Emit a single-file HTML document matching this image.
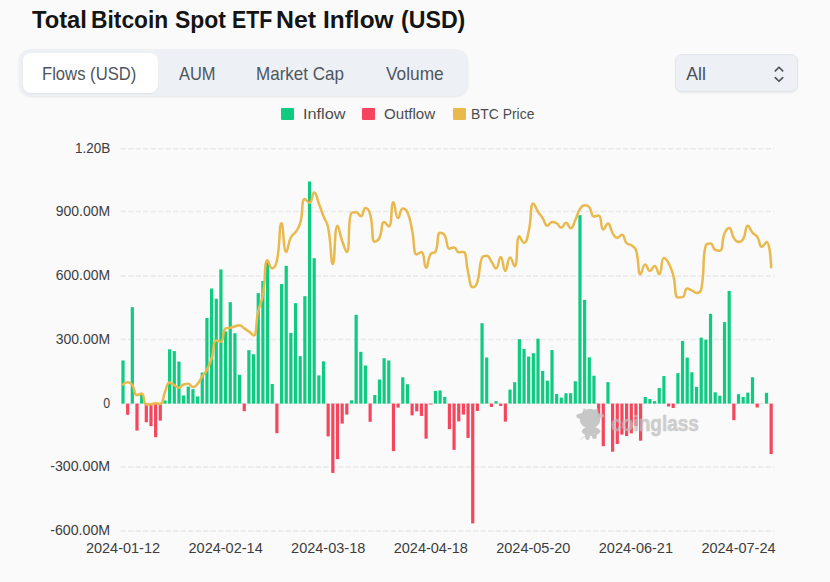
<!DOCTYPE html>
<html lang="en"><head><meta charset="utf-8"><title>Total Bitcoin Spot ETF Net Inflow (USD)</title>
<style>
html,body{margin:0;padding:0;}
body{width:830px;height:582px;overflow:hidden;background:#fafafa;font-family:"Liberation Sans",sans-serif;position:relative;color:#1a1a1a;}
.title{position:absolute;left:0;width:500px;height:30px;top:5.4px;margin:0;font-size:23.5px;line-height:30px;font-weight:bold;white-space:nowrap;color:#141414;}
.title span{position:absolute;top:0;display:block;transform-origin:0 50%;white-space:pre;}
.tabs{position:absolute;left:19px;top:49.2px;width:448.6px;height:46.8px;border-radius:12px;background:#edf1f5;box-shadow:0 1px 2px rgba(0,0,0,.08);}
.tab{position:absolute;top:4px;height:39.5px;line-height:41.7px;font-size:18.4px;color:#4f5560;white-space:nowrap;}
.tab span{display:inline-block;transform-origin:0 50%;}
.tab.active{background:#fff;border-radius:8px;box-shadow:0 1px 2px rgba(0,0,0,.06);}
.select{position:absolute;left:675.3px;top:54.2px;width:122.4px;height:37.8px;border-radius:7px;background:#edf1f5;border:1px solid #e2e6ea;box-shadow:0 1px 2px rgba(0,0,0,.07);box-sizing:border-box;}
.select span{position:absolute;left:10px;top:0;line-height:38.2px;font-size:17.6px;color:#4a5058;}
.select svg{position:absolute;left:97.7px;top:8.8px;}
.legend{position:absolute;top:104px;left:0;width:830px;height:18px;font-size:14.8px;color:#4d4d4d;}
.legend i{position:absolute;top:3.8px;width:12.8px;height:12.5px;border-radius:1px;}
.legend span{position:absolute;top:0.6px;line-height:18px;white-space:nowrap;transform-origin:0 50%;}
.chart{position:absolute;left:0;top:0;}
</style></head><body>
<svg class="chart" width="830" height="582" viewBox="0 0 830 582"><g stroke="#e9e9e9" stroke-width="1.5" stroke-dasharray="5.5 2" fill="none"><path d="M120.5,148.8H774.2"/><path d="M120.5,211.5H774.2"/><path d="M120.5,276.0H774.2"/><path d="M120.5,339.5H774.2"/><path d="M120.5,403.5H774.2"/><path d="M120.5,467.1H774.2"/><path d="M120.5,531.1H774.2"/></g><g fill="#0ecb81"><rect x="121.40" y="360.46" width="3.2" height="43.14"/><rect x="130.73" y="307.17" width="3.2" height="96.43"/><rect x="140.05" y="394.70" width="3.2" height="8.90"/><rect x="163.37" y="400.46" width="3.2" height="3.15"/><rect x="168.03" y="349.29" width="3.2" height="54.31"/><rect x="172.69" y="351.09" width="3.2" height="52.51"/><rect x="177.36" y="361.61" width="3.2" height="41.99"/><rect x="182.02" y="395.44" width="3.2" height="8.16"/><rect x="186.68" y="386.58" width="3.2" height="17.02"/><rect x="191.34" y="389.15" width="3.2" height="14.45"/><rect x="196.01" y="396.44" width="3.2" height="7.16"/><rect x="200.67" y="372.60" width="3.2" height="31.00"/><rect x="205.33" y="317.96" width="3.2" height="85.64"/><rect x="210.00" y="288.53" width="3.2" height="115.07"/><rect x="214.66" y="298.75" width="3.2" height="104.85"/><rect x="219.32" y="269.45" width="3.2" height="134.15"/><rect x="223.99" y="331.39" width="3.2" height="72.21"/><rect x="228.65" y="302.15" width="3.2" height="101.45"/><rect x="233.31" y="333.20" width="3.2" height="70.40"/><rect x="237.97" y="374.81" width="3.2" height="28.79"/><rect x="247.30" y="350.18" width="3.2" height="53.42"/><rect x="251.96" y="354.24" width="3.2" height="49.36"/><rect x="256.63" y="293.14" width="3.2" height="110.46"/><rect x="261.29" y="281.03" width="3.2" height="122.57"/><rect x="265.95" y="260.50" width="3.2" height="143.10"/><rect x="270.62" y="383.97" width="3.2" height="19.64"/><rect x="279.94" y="284.03" width="3.2" height="119.57"/><rect x="284.61" y="265.84" width="3.2" height="137.76"/><rect x="289.27" y="332.94" width="3.2" height="70.66"/><rect x="293.93" y="303.17" width="3.2" height="100.43"/><rect x="298.59" y="356.17" width="3.2" height="47.43"/><rect x="303.26" y="296.18" width="3.2" height="107.42"/><rect x="307.92" y="181.54" width="3.2" height="222.06"/><rect x="312.58" y="258.25" width="3.2" height="145.35"/><rect x="317.25" y="375.40" width="3.2" height="28.20"/><rect x="321.91" y="361.36" width="3.2" height="42.25"/><rect x="349.89" y="400.33" width="3.2" height="3.27"/><rect x="354.55" y="314.78" width="3.2" height="88.83"/><rect x="359.21" y="351.86" width="3.2" height="51.74"/><rect x="363.88" y="365.56" width="3.2" height="38.04"/><rect x="373.20" y="395.04" width="3.2" height="8.56"/><rect x="377.87" y="379.48" width="3.2" height="24.12"/><rect x="382.53" y="358.25" width="3.2" height="45.35"/><rect x="387.19" y="360.46" width="3.2" height="43.14"/><rect x="401.18" y="377.29" width="3.2" height="26.31"/><rect x="405.84" y="384.20" width="3.2" height="19.40"/><rect x="433.82" y="390.91" width="3.2" height="12.69"/><rect x="438.48" y="390.43" width="3.2" height="13.17"/><rect x="443.15" y="396.89" width="3.2" height="6.71"/><rect x="480.45" y="323.21" width="3.2" height="80.39"/><rect x="485.11" y="357.49" width="3.2" height="46.11"/><rect x="494.44" y="401.16" width="3.2" height="2.44"/><rect x="508.43" y="389.58" width="3.2" height="14.03"/><rect x="513.09" y="382.24" width="3.2" height="21.36"/><rect x="517.75" y="339.21" width="3.2" height="64.39"/><rect x="522.42" y="348.92" width="3.2" height="54.68"/><rect x="527.08" y="356.53" width="3.2" height="47.07"/><rect x="531.74" y="353.20" width="3.2" height="50.40"/><rect x="536.41" y="338.64" width="3.2" height="64.96"/><rect x="541.07" y="370.92" width="3.2" height="32.68"/><rect x="545.73" y="380.67" width="3.2" height="22.93"/><rect x="550.40" y="350.07" width="3.2" height="53.53"/><rect x="555.06" y="394.02" width="3.2" height="9.58"/><rect x="559.72" y="397.59" width="3.2" height="6.01"/><rect x="564.38" y="393.25" width="3.2" height="10.35"/><rect x="569.05" y="393.23" width="3.2" height="10.37"/><rect x="573.71" y="381.27" width="3.2" height="22.33"/><rect x="578.37" y="215.20" width="3.2" height="188.40"/><rect x="583.04" y="299.88" width="3.2" height="103.72"/><rect x="587.70" y="357.34" width="3.2" height="46.26"/><rect x="592.36" y="375.76" width="3.2" height="27.84"/><rect x="606.35" y="382.18" width="3.2" height="21.42"/><rect x="643.66" y="397.01" width="3.2" height="6.59"/><rect x="648.32" y="399.05" width="3.2" height="4.55"/><rect x="652.98" y="401.09" width="3.2" height="2.51"/><rect x="657.64" y="388.09" width="3.2" height="15.51"/><rect x="662.31" y="376.08" width="3.2" height="27.52"/><rect x="676.30" y="373.19" width="3.2" height="30.41"/><rect x="680.96" y="340.93" width="3.2" height="62.67"/><rect x="685.62" y="357.62" width="3.2" height="45.98"/><rect x="690.29" y="372.28" width="3.2" height="31.32"/><rect x="694.95" y="386.83" width="3.2" height="16.77"/><rect x="699.61" y="337.70" width="3.2" height="65.90"/><rect x="704.27" y="339.64" width="3.2" height="63.96"/><rect x="708.94" y="313.82" width="3.2" height="89.78"/><rect x="713.60" y="392.27" width="3.2" height="11.33"/><rect x="718.26" y="395.74" width="3.2" height="7.86"/><rect x="722.93" y="322.09" width="3.2" height="81.52"/><rect x="727.59" y="290.93" width="3.2" height="112.67"/><rect x="736.92" y="394.14" width="3.2" height="9.46"/><rect x="741.58" y="396.99" width="3.2" height="6.61"/><rect x="746.24" y="392.59" width="3.2" height="11.01"/><rect x="750.90" y="377.23" width="3.2" height="26.37"/><rect x="760.23" y="403.54" width="3.2" height="0.06"/><rect x="764.89" y="392.85" width="3.2" height="10.75"/></g><g fill="#f6465d"><rect x="126.06" y="403.60" width="3.2" height="11.20"/><rect x="135.39" y="403.60" width="3.2" height="26.99"/><rect x="144.72" y="403.60" width="3.2" height="18.68"/><rect x="149.38" y="403.60" width="3.2" height="22.52"/><rect x="154.04" y="403.60" width="3.2" height="33.57"/><rect x="158.70" y="403.60" width="3.2" height="17.00"/><rect x="242.64" y="403.60" width="3.2" height="7.57"/><rect x="275.28" y="403.60" width="3.2" height="29.64"/><rect x="326.57" y="403.60" width="3.2" height="32.81"/><rect x="331.24" y="403.60" width="3.2" height="69.32"/><rect x="335.90" y="403.60" width="3.2" height="55.59"/><rect x="340.56" y="403.60" width="3.2" height="19.97"/><rect x="345.22" y="403.60" width="3.2" height="10.96"/><rect x="368.54" y="403.60" width="3.2" height="18.21"/><rect x="391.85" y="403.60" width="3.2" height="47.56"/><rect x="396.52" y="403.60" width="3.2" height="3.95"/><rect x="410.51" y="403.60" width="3.2" height="11.71"/><rect x="415.17" y="403.60" width="3.2" height="7.80"/><rect x="419.83" y="403.60" width="3.2" height="12.32"/><rect x="424.50" y="403.60" width="3.2" height="35.06"/><rect x="429.16" y="403.60" width="3.2" height="0.91"/><rect x="447.81" y="403.60" width="3.2" height="25.63"/><rect x="452.47" y="403.60" width="3.2" height="46.24"/><rect x="457.14" y="403.60" width="3.2" height="17.76"/><rect x="461.80" y="403.60" width="3.2" height="10.96"/><rect x="466.46" y="403.60" width="3.2" height="34.34"/><rect x="471.12" y="403.60" width="3.2" height="119.79"/><rect x="475.79" y="403.60" width="3.2" height="7.31"/><rect x="489.78" y="403.60" width="3.2" height="3.34"/><rect x="499.10" y="403.60" width="3.2" height="2.40"/><rect x="503.77" y="403.60" width="3.2" height="18.00"/><rect x="597.03" y="403.60" width="3.2" height="13.79"/><rect x="601.69" y="403.60" width="3.2" height="42.59"/><rect x="611.01" y="403.60" width="3.2" height="48.07"/><rect x="615.68" y="403.60" width="3.2" height="40.35"/><rect x="620.34" y="403.60" width="3.2" height="31.00"/><rect x="625.00" y="403.60" width="3.2" height="32.38"/><rect x="629.67" y="403.60" width="3.2" height="29.73"/><rect x="634.33" y="403.60" width="3.2" height="22.50"/><rect x="638.99" y="403.60" width="3.2" height="37.08"/><rect x="666.97" y="403.60" width="3.2" height="2.91"/><rect x="671.63" y="403.60" width="3.2" height="4.36"/><rect x="732.25" y="403.60" width="3.2" height="16.57"/><rect x="755.57" y="403.60" width="3.2" height="3.89"/><rect x="769.56" y="403.60" width="3.2" height="50.45"/></g><path d="M123.00,384.48 C123.00,384.48 125.40,382.24 127.66,382.24 C130.06,382.24 130.80,382.97 132.33,385.11 C135.46,389.50 133.77,395.31 136.99,395.31 C138.43,395.31 140.28,393.40 141.65,393.40 C144.94,393.40 142.95,404.56 146.31,404.56 C147.61,404.56 148.67,404.55 150.98,404.24 C153.33,403.92 153.30,403.28 155.64,403.28 C157.96,403.28 159.04,403.92 160.30,403.92 C163.70,403.92 162.43,397.93 164.97,392.12 C167.09,387.25 166.52,382.56 169.63,382.56 C171.18,382.56 171.96,383.84 174.29,385.11 C176.62,386.39 176.70,387.66 178.96,387.66 C181.36,387.66 181.08,385.24 183.62,384.48 C185.74,383.84 186.16,383.84 188.28,383.84 C190.83,383.84 190.61,387.03 192.94,387.03 C195.28,387.03 195.80,385.93 197.61,383.84 C200.47,380.51 199.79,379.91 202.27,376.19 C204.46,372.90 205.12,373.29 206.93,369.81 C209.78,364.36 209.72,364.23 211.60,358.34 C214.39,349.56 212.57,340.49 216.26,340.49 C217.23,340.49 219.74,341.76 220.92,341.76 C224.40,341.76 222.09,330.30 225.59,328.38 C226.75,327.74 227.95,328.21 230.25,327.74 C232.61,327.25 232.58,327.10 234.91,326.46 C237.24,325.83 237.42,325.19 239.57,325.19 C242.09,325.19 241.91,326.78 244.24,328.38 C246.57,329.97 246.65,329.87 248.90,331.56 C251.31,333.37 252.65,335.39 253.56,335.39 C257.31,335.39 255.44,323.16 258.23,311.16 C260.10,303.08 261.40,303.37 262.89,295.23 C266.06,277.87 263.88,260.16 267.55,260.16 C268.54,260.16 269.82,268.45 272.22,268.45 C274.48,268.45 275.99,265.13 276.88,260.80 C280.65,242.50 278.90,223.19 281.54,223.19 C283.57,223.19 283.16,251.88 286.21,251.88 C287.82,251.88 287.65,244.03 290.87,237.21 C292.31,234.15 293.63,234.97 295.53,232.11 C298.30,227.95 298.84,227.99 300.19,223.19 C303.51,211.42 301.11,198.96 304.86,198.96 C305.77,198.96 307.89,202.79 309.52,202.79 C312.55,202.79 311.91,192.59 314.18,192.59 C316.57,192.59 316.68,197.94 318.85,203.43 C321.34,209.74 321.07,209.84 323.51,216.18 C325.73,221.95 326.99,221.61 328.17,227.65 C331.66,245.52 330.56,263.99 332.84,263.99 C335.23,263.99 334.20,225.74 337.50,225.74 C338.87,225.74 339.48,233.52 342.16,241.04 C344.14,246.59 345.74,251.88 346.82,251.88 C350.41,251.88 347.32,218.29 351.49,212.99 C351.99,212.35 354.11,212.35 356.15,212.35 C358.77,212.35 359.00,216.18 360.81,216.18 C363.67,216.18 362.93,207.89 365.48,207.89 C367.59,207.89 369.11,210.53 370.14,214.26 C373.77,227.42 370.97,241.68 374.80,241.68 C375.63,241.68 378.22,240.48 379.47,237.85 C382.89,230.60 380.77,221.91 384.13,221.91 C385.43,221.91 387.82,226.38 388.79,226.38 C392.49,226.38 390.67,202.15 393.45,202.15 C395.33,202.15 395.27,218.09 398.12,218.09 C399.94,218.09 399.80,208.53 402.78,208.53 C404.47,208.53 406.29,209.68 407.44,212.35 C410.96,220.52 410.11,221.20 412.11,230.20 C414.77,242.24 412.93,254.43 416.77,254.43 C417.60,254.43 420.30,251.88 421.43,251.88 C424.96,251.88 423.63,267.81 426.10,267.81 C428.29,267.81 427.28,259.40 430.76,253.79 C431.94,251.88 434.47,253.79 435.42,251.88 C439.13,244.41 436.41,232.75 440.08,232.75 C441.08,232.75 443.48,233.13 444.75,235.30 C448.14,241.10 445.93,248.69 449.41,248.69 C450.60,248.69 452.12,247.41 454.07,247.41 C456.78,247.41 455.99,252.19 458.74,252.19 C460.66,252.19 462.55,251.88 463.40,251.88 C467.21,251.88 465.40,262.16 468.06,272.28 C470.06,279.86 469.52,287.26 472.73,287.26 C474.18,287.26 476.34,285.17 477.39,281.84 C481.00,270.35 478.18,266.97 482.05,257.61 C482.84,255.70 484.82,255.70 486.71,255.70 C489.49,255.70 489.20,258.46 491.38,261.44 C493.86,264.83 494.15,268.45 496.04,268.45 C498.82,268.45 498.58,256.98 500.70,256.98 C503.24,256.98 502.99,271.00 505.37,271.00 C507.65,271.00 507.27,257.61 510.03,257.61 C511.93,257.61 513.55,266.22 514.69,266.22 C518.22,266.22 515.68,236.26 519.36,236.26 C520.34,236.26 522.17,242.95 524.02,242.95 C526.83,242.95 527.27,237.47 528.68,231.48 C531.93,217.71 529.85,203.43 533.34,203.43 C534.51,203.43 535.46,207.71 538.01,211.71 C540.12,215.04 540.49,214.80 542.67,218.09 C545.15,221.81 544.55,225.74 547.33,225.74 C549.21,225.74 549.41,221.91 552.00,221.91 C554.07,221.91 554.66,221.96 556.66,223.19 C559.33,224.83 559.03,227.65 561.32,227.65 C563.69,227.65 563.73,222.87 565.99,222.87 C568.40,222.87 568.65,228.29 570.65,228.29 C573.31,228.29 573.26,224.28 575.31,220.00 C577.92,214.56 576.83,213.79 579.97,208.84 C581.49,206.46 582.14,205.34 584.64,205.34 C586.80,205.34 587.77,205.42 589.30,207.25 C592.44,211.00 590.77,216.49 593.96,216.49 C595.43,216.49 597.49,215.54 598.63,215.54 C602.15,215.54 600.22,229.56 603.29,229.56 C604.88,229.56 606.00,223.51 607.95,223.51 C610.67,223.51 609.75,228.66 612.62,233.07 C614.41,235.83 614.75,237.85 617.28,237.85 C619.41,237.85 620.23,234.66 621.94,234.66 C624.90,234.66 623.53,239.80 626.60,243.27 C628.19,245.06 629.26,243.74 631.27,245.18 C633.92,247.09 634.94,246.87 635.93,249.96 C639.60,261.38 637.34,274.19 640.59,274.19 C642.00,274.19 642.58,264.62 645.26,264.62 C647.24,264.62 647.43,271.00 649.92,271.00 C652.09,271.00 652.62,265.90 654.58,265.90 C657.28,265.90 657.57,274.19 659.25,274.19 C662.23,274.19 660.60,257.93 663.91,257.93 C665.26,257.93 666.95,260.04 668.57,263.03 C671.61,268.65 671.54,268.90 673.23,275.14 C676.21,286.11 674.03,297.46 677.90,297.46 C678.69,297.46 681.05,297.46 682.56,297.14 C685.72,296.47 684.14,288.53 687.22,288.53 C688.81,288.53 689.62,289.36 691.89,290.44 C694.28,291.59 694.33,292.99 696.55,292.99 C698.99,292.99 700.67,292.26 701.21,289.49 C705.34,268.35 701.68,259.59 705.88,245.18 C706.34,243.59 708.75,243.59 710.54,243.59 C713.41,243.59 712.28,248.63 715.20,249.96 C716.95,250.76 718.89,250.76 719.86,250.76 C723.56,250.76 721.19,241.54 724.53,233.39 C725.85,230.15 727.37,227.97 729.19,227.97 C732.04,227.97 730.82,233.61 733.85,238.17 C735.48,240.62 736.07,241.99 738.52,241.99 C740.73,241.99 741.88,241.39 743.18,239.13 C746.54,233.26 744.92,225.74 747.84,225.74 C749.58,225.74 749.79,229.59 752.50,232.75 C754.45,235.01 755.54,234.12 757.17,236.58 C760.20,241.14 758.91,246.78 761.83,246.78 C763.57,246.78 765.53,241.99 766.49,241.99 C770.19,241.99 771.16,267.18 771.16,267.18" fill="none" stroke="#e9b94e" stroke-width="2.5" stroke-linejoin="round" stroke-linecap="round"/><g fill="#c4c4c4" opacity="0.93">
<ellipse cx="590" cy="418.7" rx="10.4" ry="9.9"/>
<ellipse cx="580.3" cy="415.9" rx="4" ry="2.4" transform="rotate(-8 580.3 415.9)"/>
<ellipse cx="600.3" cy="415.6" rx="3.8" ry="2.3" transform="rotate(10 600.3 415.6)" opacity="0.75"/>
<path d="M582.9,413L583.9,408.4L586.6,411zM594.2,410.4L597.5,408.5L598.2,413.4z" stroke="#c4c4c4" stroke-width="0.6" stroke-linejoin="round"/>
<ellipse cx="591" cy="431.3" rx="9.2" ry="4.6"/>
<rect x="585.1" y="430" width="4.8" height="9.9" rx="2.3"/>
<rect x="592" y="430" width="4.8" height="9" rx="2.3"/>
<path d="M584.6,436.4L580.9,439.3" stroke="#c4c4c4" stroke-width="0.7" stroke-linecap="round" fill="none"/>
</g>
<text x="611.3" y="430.6" fill="#bdbdbd" stroke="#bdbdbd" stroke-width="0.6" stroke-linejoin="round" opacity="0.72" font-family="'Liberation Sans',sans-serif" font-weight="bold" font-size="21.4" textLength="87.6" lengthAdjust="spacingAndGlyphs">coinglass</text><g font-family="'Liberation Sans',sans-serif" font-size="14.1" fill="#3d3d3d"><text x="74.9" y="152.6" textLength="35.3" lengthAdjust="spacingAndGlyphs">1.20B</text><text x="55.8" y="215.6" textLength="54.4" lengthAdjust="spacingAndGlyphs">900.00M</text><text x="55.8" y="279.6" textLength="54.4" lengthAdjust="spacingAndGlyphs">600.00M</text><text x="55.8" y="343.8" textLength="54.4" lengthAdjust="spacingAndGlyphs">300.00M</text><text x="103.3" y="407.7" textLength="6.9" lengthAdjust="spacingAndGlyphs">0</text><text x="50.2" y="470.9" textLength="60" lengthAdjust="spacingAndGlyphs">-300.00M</text><text x="50.2" y="534.6" textLength="60" lengthAdjust="spacingAndGlyphs">-600.00M</text><text x="85.9" y="552.6" textLength="74.2" lengthAdjust="spacingAndGlyphs">2024-01-12</text><text x="188.5" y="552.6" textLength="74.2" lengthAdjust="spacingAndGlyphs">2024-02-14</text><text x="291.1" y="552.6" textLength="74.2" lengthAdjust="spacingAndGlyphs">2024-03-18</text><text x="393.7" y="552.6" textLength="74.2" lengthAdjust="spacingAndGlyphs">2024-04-18</text><text x="496.2" y="552.6" textLength="74.2" lengthAdjust="spacingAndGlyphs">2024-05-20</text><text x="598.8" y="552.6" textLength="74.2" lengthAdjust="spacingAndGlyphs">2024-06-21</text><text x="701.4" y="552.6" textLength="74.2" lengthAdjust="spacingAndGlyphs">2024-07-24</text></g></svg>
<h1 class="title" id="title"><span style="left:31.90px;transform:scaleX(1.0094)">Total </span><span style="left:91.46px;transform:scaleX(0.9697)">Bitcoin </span><span style="left:174.52px;transform:scaleX(0.9765)">Spot </span><span style="left:231.78px;transform:scaleX(0.9095)">ETF </span><span style="left:276.38px;transform:scaleX(1.0583)">Net </span><span style="left:322.62px;transform:scaleX(1.0394)">Inflow </span><span style="left:401.01px;transform:scaleX(0.9857)">(USD)</span></h1>
<div class="tabs">
<div class="tab active" style="left:3.5px;width:135px"></div>
<div class="tab" style="left:23px;"><span id="t1" style="transform:scaleX(.905)">Flows (USD)</span></div>
<div class="tab" style="left:159.5px;"><span id="t2" style="transform:scaleX(.895)">AUM</span></div>
<div class="tab" style="left:236.5px;"><span id="t3" style="transform:scaleX(.925)">Market Cap</span></div>
<div class="tab" style="left:366.5px;"><span id="t4" style="transform:scaleX(.94)">Volume</span></div>
</div>
<div class="select"><span>All</span><svg width="10" height="20" viewBox="0 0 10 20" fill="none" stroke="#4a5058" stroke-width="1.6" stroke-linecap="round" stroke-linejoin="round"><path d="M1.3,6.9L5,3.2L8.7,6.9M1.3,13.6L5,17.3L8.7,13.6"/></svg></div>
<div class="legend">
<i style="left:281.3px;background:#0ecb81"></i><span id="l1" style="left:302.7px;transform:scaleX(1.1)">Inflow</span>
<i style="left:362.3px;background:#f6465d"></i><span id="l2" style="left:384px;transform:scaleX(1.02)">Outflow</span>
<i style="left:452.9px;background:#e9b94e"></i><span id="l3" style="left:470.6px;transform:scaleX(.94)">BTC Price</span>
</div>
</body></html>
